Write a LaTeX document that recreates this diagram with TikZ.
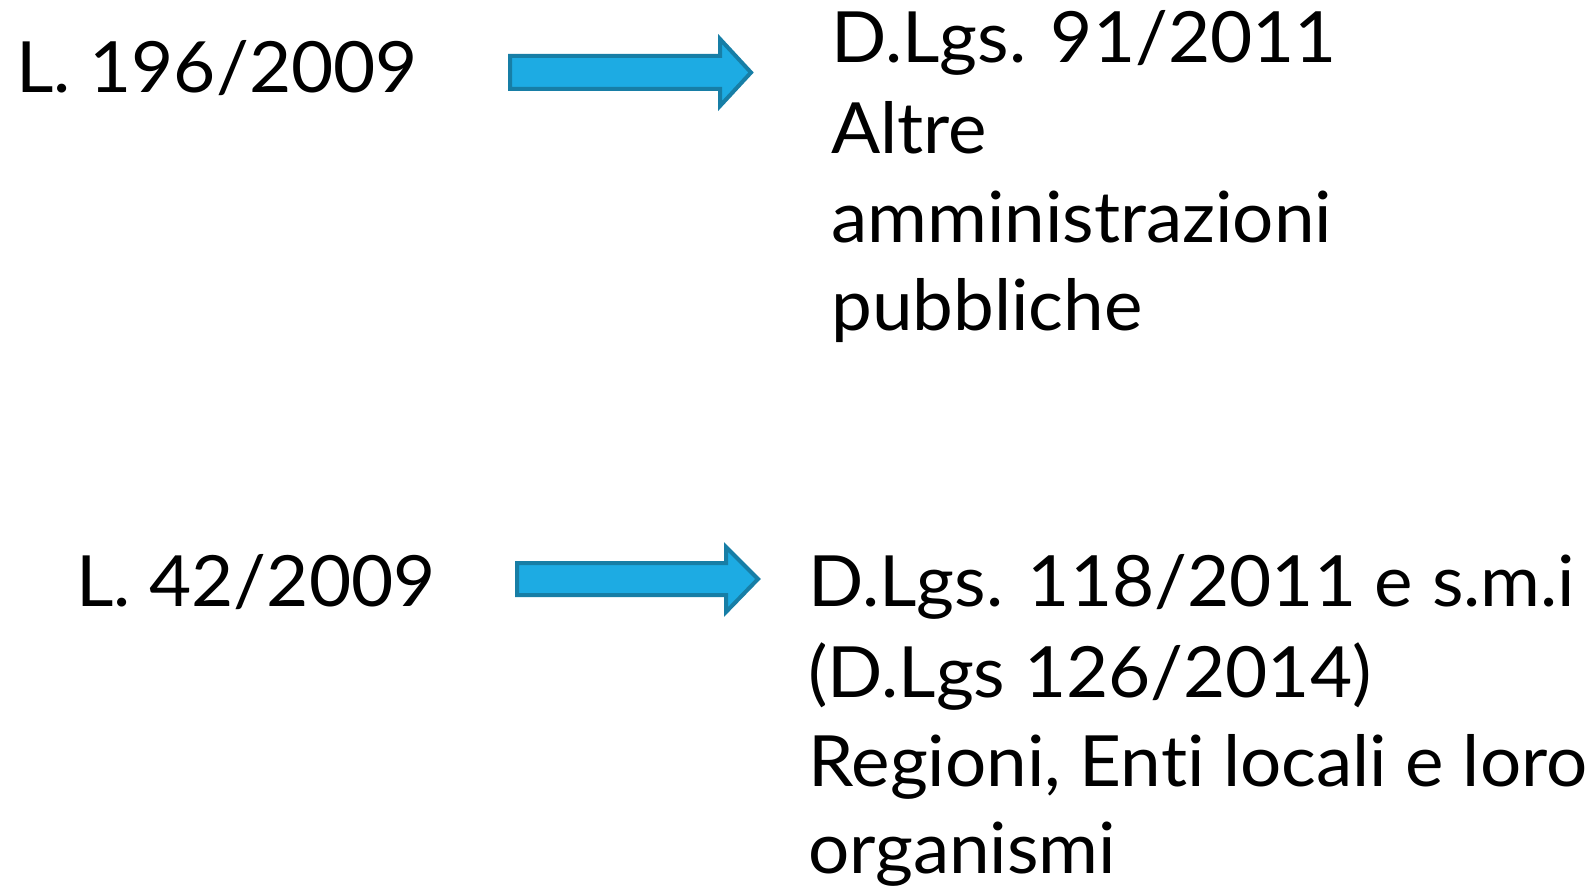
\documentclass[tikz,border=0pt]{standalone}
\usepackage{fontspec}
\setmainfont[FakeStretch=1.03,Ligatures=NoCommon]{Lato}
\definecolor{arrfill}{HTML}{1DABE3}
\definecolor{arrline}{HTML}{177EA6}
\begin{document}
\begin{tikzpicture}[x=0.75pt,y=-0.75pt,
  txt/.style={inner sep=0pt,anchor=base west,font=\fontsize{53}{64}\selectfont},
  blockarrow/.style={fill=arrfill,draw=arrline,line width=3pt,line join=miter}]
\useasboundingbox (0,0) rectangle (1588,887);
\node[txt] (l1) at (16,93) {L. 196/2009};
\node[txt] (r1a) at (831,63) {D.Lgs. 91/2011};
\node[txt] (r1b) at (831,154) {Altre};
\node[txt] (r1c) at (831,243) {amministrazioni};
\node[txt] (r1d) at (831,331) {pubbliche};
\node[txt] (l2) at (76,606) {L. 42/2009};
\node[txt] (r2a) at (808,606) {D.Lgs. 118/2011 e s.m.i};
\node[txt] (r2b) at (808,697) {(D.Lgs 126/2014)};
\node[txt] (r2c) at (808,786) {Regioni, Enti locali e loro};
\node[txt] (r2d) at (808,873) {organismi};
\draw[blockarrow] (510,56) -- (720,56) -- (720,39) -- (751,72.5) -- (720,106) -- (720,89) -- (510,89) -- cycle;
\draw[blockarrow] (517,563) -- (726,563) -- (726,547) -- (758,579) -- (726,612) -- (726,595) -- (517,595) -- cycle;
\end{tikzpicture}
\end{document}
